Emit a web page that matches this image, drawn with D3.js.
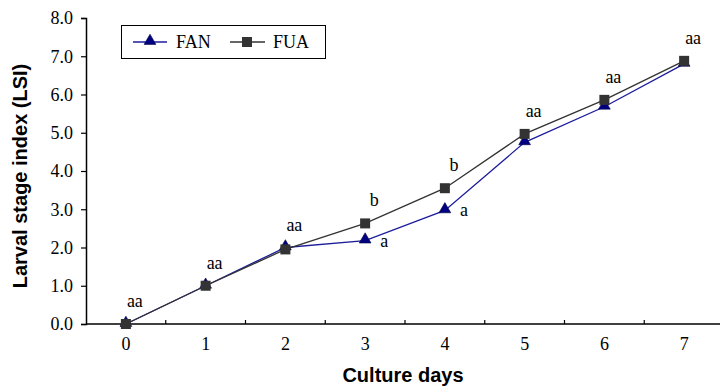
<!DOCTYPE html>
<html>
<head>
<meta charset="utf-8">
<script src="https://cdn.jsdelivr.net/npm/d3@7"></script>
<style>
  body { margin: 0; background: #fff; }
  svg { display: block; }
</style>
</head>
<body>
<div id="chart"></div>
<script>
// chart data
const days = ["0", "1", "2", "3", "4", "5", "6", "7"];
const fan = [0, 1.0, 2.0, 2.18, 2.97, 4.75, 5.68, 6.8];
const fua = [0, 1.0, 1.95, 2.63, 3.55, 4.97, 5.86, 6.88];
const topLabels = ["aa", "aa", "aa", "b", "b", "aa", "aa", "aa"];
const fanLabels = ["", "", "", "a", "a", "", "", ""];
const yTicks = [0, 1, 2, 3, 4, 5, 6, 7, 8];

const width = 720, height = 387;
const margin = { left: 86, right: -4, top: 18, bottom: 63 };

var svg = d3.select("#chart").append("svg")
  .attr("width", width).attr("height", height);

var x = d3.scaleBand().domain(days)
  .range([margin.left, width - margin.right]);
var y = d3.scaleLinear().domain([0, 8])
  .range([height - margin.bottom, margin.top]);

const serif = "'Liberation Serif', 'Times New Roman', serif";
const sans = "'Liberation Sans', Arial, sans-serif";
const fs = 18;

// y axis
var yAxis = svg.append("g")
  .attr("transform", "translate(" + margin.left + ",0)")
  .call(d3.axisLeft(y).tickValues(yTicks).tickFormat(d3.format(".1f")).tickSizeOuter(0).tickSize(5));
yAxis.select(".domain").attr("stroke", "#000").attr("stroke-width", 1.5);
yAxis.selectAll(".tick line").attr("stroke", "#000").attr("stroke-width", 1.2);
yAxis.selectAll("text").attr("font-family", serif).attr("font-size", fs)
  .attr("fill", "#000").attr("x", -13);

// x axis, ticks between categories, pointing up
var xg = svg.append("g");
xg.append("line")
  .attr("x1", margin.left).attr("x2", width)
  .attr("y1", y(0)).attr("y2", y(0))
  .attr("stroke", "#000").attr("stroke-width", 1.5);
xg.selectAll(".xt").data(days.slice(1)).enter().append("line")
  .attr("x1", d => x(d)).attr("x2", d => x(d))
  .attr("y1", y(0)).attr("y2", y(0) - 4)
  .attr("stroke", "#000").attr("stroke-width", 1.2);
xg.selectAll(".xl").data(days).enter().append("text")
  .attr("x", d => x(d) + x.bandwidth() / 2)
  .attr("y", y(0) + 26)
  .attr("text-anchor", "middle")
  .attr("font-family", serif).attr("font-size", fs)
  .text(d => d);

// axis titles
svg.append("text")
  .attr("x", 403).attr("y", 382)
  .attr("text-anchor", "middle")
  .attr("font-family", sans).attr("font-weight", "bold").attr("font-size", 20)
  .text("Culture days");
svg.append("text")
  .attr("transform", "translate(27,176) rotate(-90)")
  .attr("text-anchor", "middle")
  .attr("font-family", sans).attr("font-weight", "bold").attr("font-size", 20)
  .text("Larval stage index (LSI)");

var cx = d => x(d) + x.bandwidth() / 2;
var line = d3.line().x((v, i) => cx(days[i])).y(v => y(v));
var tri = d3.symbol().type(d3.symbolTriangle).size(60);

// FAN series
svg.append("path").datum(fan)
  .attr("d", line).attr("fill", "none")
  .attr("stroke", "#1c1c9c").attr("stroke-width", 1.3);
svg.selectAll(".fan").data(fan).enter().append("path")
  .attr("d", tri)
  .attr("transform", (v, i) => "translate(" + cx(days[i]) + "," + (y(v) - 1) + ")")
  .attr("fill", "#000080").attr("stroke", "#000040").attr("stroke-width", 0.6);

// FUA series
svg.append("path").datum(fua)
  .attr("d", line).attr("fill", "none")
  .attr("stroke", "#333").attr("stroke-width", 1.3);
svg.selectAll(".fua").data(fua).enter().append("rect")
  .attr("x", (v, i) => cx(days[i]) - 5)
  .attr("y", v => y(v) - 5)
  .attr("width", 10).attr("height", 10)
  .attr("fill", "#333");

// significance letters
svg.selectAll(".lab").data(topLabels).enter().append("text")
  .attr("x", (d, i) => cx(days[i]) + 9)
  .attr("y", (d, i) => y(Math.max(fan[i], fua[i])) - 17)
  .attr("text-anchor", "middle")
  .attr("font-family", serif).attr("font-size", fs)
  .text(d => d);
svg.selectAll(".labA").data(fanLabels).enter().append("text")
  .attr("x", (d, i) => cx(days[i]) + 19)
  .attr("y", (d, i) => y(fan[i]) + 6)
  .attr("text-anchor", "middle")
  .attr("font-family", serif).attr("font-size", fs)
  .text(d => d);

// legend
var lg = svg.append("g");
lg.append("rect")
  .attr("x", 121.5).attr("y", 25.5).attr("width", 204).attr("height", 33)
  .attr("fill", "#fff").attr("stroke", "#000").attr("stroke-width", 1);
lg.append("line").attr("x1", 133).attr("x2", 167).attr("y1", 42).attr("y2", 42)
  .attr("stroke", "#1c1c9c").attr("stroke-width", 1.3);
lg.append("path").attr("d", tri).attr("transform", "translate(150,41)")
  .attr("fill", "#000080").attr("stroke", "#000040").attr("stroke-width", 0.6);
lg.append("text").attr("x", 176).attr("y", 48)
  .attr("font-family", serif).attr("font-size", fs).text("FAN");
lg.append("line").attr("x1", 230).attr("x2", 265).attr("y1", 42).attr("y2", 42)
  .attr("stroke", "#333").attr("stroke-width", 1.3);
lg.append("rect").attr("x", 242).attr("y", 37).attr("width", 10).attr("height", 10)
  .attr("fill", "#333");
lg.append("text").attr("x", 273).attr("y", 48)
  .attr("font-family", serif).attr("font-size", fs).text("FUA");
</script>
</body>
</html>
